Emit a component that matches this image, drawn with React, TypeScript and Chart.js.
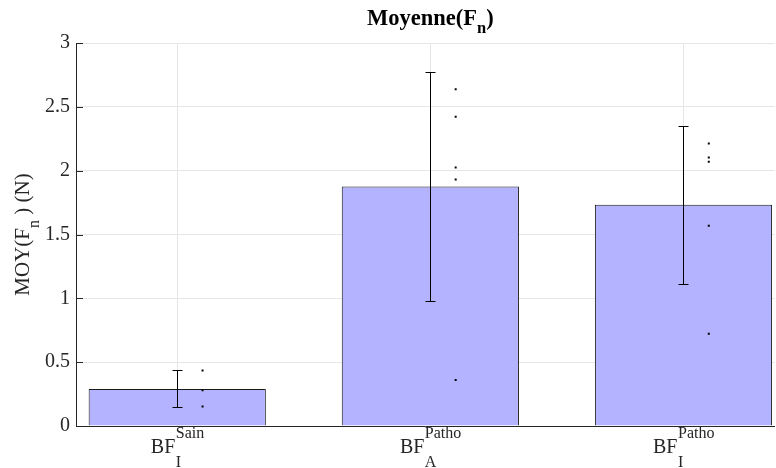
import React, { useEffect, useRef } from 'react';
import { Chart, registerables } from 'chart.js';

Chart.register(...registerables);

// ---- data ----
const CATEGORY_POS = [1, 2, 3];
const LABEL_MAIN = ['BF', 'BF', 'BF'];
const LABEL_SUB = ['I', 'A', 'I'];
const LABEL_SUP = ['Sain', 'Patho', 'Patho'];
const BAR_MEANS = [0.29, 1.876, 1.733];
const BAR_ERRORS = [0.145, 0.893, 0.62];
const POINTS_1 = [0.435, 0.28, 0.152];
const POINTS_2 = [2.637, 2.423, 2.025, 1.931, 0.361];
const POINTS_3 = [2.213, 2.104, 2.07, 1.568, 0.722];
const ALL_POINTS = [POINTS_1, POINTS_2, POINTS_3];
const DOT_OFFSET = 0.1;
const Y_MIN = 0;
const Y_MAX = 3;
const Y_STEP = 0.5;
const X_MIN = 0.6;
const X_MAX = 3.36;

const TITLE_PARTS = [
  { t: 'Moyenne(F', s: 22.5, dy: 0 },
  { t: 'n', s: 16.5, dy: 8 },
  { t: ')', s: 22.5, dy: 0 },
];
const YLABEL_PARTS = [
  { t: 'MOY(F', s: 21, dy: 0 },
  { t: 'n', s: 16, dy: 10 },
  { t: ' ) (N)', s: 21, dy: 0 },
];

const TEXT = '#262626';
const GRID = '#e6e6e6';
const SERIF = "'Liberation Serif', 'Times New Roman', serif";

type Part = { t: string; s: number; dy: number };

function drawParts(ctx: CanvasRenderingContext2D, parts: Part[], cx: number, y: number, bold: boolean) {
  const w = parts.map((p) => {
    ctx.font = `${bold ? 'bold ' : ''}${p.s}px ${SERIF}`;
    return ctx.measureText(p.t).width;
  });
  const total = w.reduce((a, b) => a + b, 0);
  let x = cx - total / 2;
  parts.forEach((p, i) => {
    ctx.font = `${bold ? 'bold ' : ''}${p.s}px ${SERIF}`;
    ctx.fillText(p.t, x, y + p.dy);
    x += w[i];
  });
}

const decorPlugin = {
  id: 'decor',
  beforeDatasetsDraw(chart: any) {
    const ctx = chart.ctx as CanvasRenderingContext2D;
    const ys = chart.scales.y;
    const area = chart.chartArea;
    ctx.save();
    ctx.strokeStyle = TEXT;
    ctx.lineWidth = 1;
    for (let v = Y_MIN; v <= Y_MAX + 1e-9; v += Y_STEP) {
      const py = Math.round(ys.getPixelForValue(v)) + 0.5;
      ctx.beginPath();
      ctx.moveTo(area.left, py);
      ctx.lineTo(area.left + 7, py);
      ctx.stroke();
    }
    ctx.restore();
  },
  afterDatasetsDraw(chart: any) {
    const ctx = chart.ctx as CanvasRenderingContext2D;
    const xs = chart.scales.x;
    const ys = chart.scales.y;
    ctx.save();
    ctx.strokeStyle = '#000';
    ctx.lineWidth = 1;
    CATEGORY_POS.forEach((c, i) => {
      const px = Math.round(xs.getPixelForValue(c)) + 0.5;
      const top = Math.round(ys.getPixelForValue(BAR_MEANS[i] + BAR_ERRORS[i])) + 0.5;
      const bot = Math.round(ys.getPixelForValue(BAR_MEANS[i] - BAR_ERRORS[i])) + 0.5;
      ctx.beginPath();
      ctx.moveTo(px, top);
      ctx.lineTo(px, bot);
      ctx.moveTo(px - 5, top);
      ctx.lineTo(px + 5, top);
      ctx.moveTo(px - 5, bot);
      ctx.lineTo(px + 5, bot);
      ctx.stroke();
    });
    ctx.restore();
  },
  afterDraw(chart: any) {
    const ctx = chart.ctx as CanvasRenderingContext2D;
    const xs = chart.scales.x;
    const area = chart.chartArea;
    ctx.save();
    ctx.textBaseline = 'alphabetic';
    ctx.textAlign = 'left';
    // title
    ctx.fillStyle = '#000';
    drawParts(ctx, TITLE_PARTS, xs.getPixelForValue(CATEGORY_POS[1]), 25, true);
    // y label
    ctx.fillStyle = TEXT;
    ctx.save();
    ctx.translate(29, (area.top + area.bottom) / 2);
    ctx.rotate(-Math.PI / 2);
    drawParts(ctx, YLABEL_PARTS, 0, 0, false);
    ctx.restore();
    // x tick labels
    CATEGORY_POS.forEach((c, i) => {
      const cx = xs.getPixelForValue(c);
      ctx.font = `20px ${SERIF}`;
      const wm = ctx.measureText(LABEL_MAIN[i]).width;
      ctx.font = `16px ${SERIF}`;
      const ws = Math.max(ctx.measureText(LABEL_SUP[i]).width, ctx.measureText(LABEL_SUB[i]).width);
      const x0 = cx - (wm + ws) / 2;
      const base = area.bottom + 27;
      ctx.font = `20px ${SERIF}`;
      ctx.fillText(LABEL_MAIN[i], x0, base);
      ctx.font = `16px ${SERIF}`;
      ctx.fillText(LABEL_SUP[i], x0 + wm + 0.5, base - 15);
      ctx.fillText(LABEL_SUB[i], x0 + wm + 0.5, base + 14);
    });
    ctx.restore();
  },
};

export default function App() {
  const ref = useRef<HTMLCanvasElement | null>(null);
  useEffect(() => {
    if (!ref.current) return;
    const dots: { x: number; y: number }[] = [];
    ALL_POINTS.forEach((pts, i) => pts.forEach((v) => dots.push({ x: CATEGORY_POS[i] + DOT_OFFSET, y: v })));
    const chart = new Chart(ref.current, {
      type: 'bar',
      data: {
        datasets: [
          {
            type: 'scatter',
            data: dots,
            pointStyle: 'rect',
            pointRadius: 1.4,
            pointHoverRadius: 1.4,
            backgroundColor: '#000',
            borderWidth: 0,
            order: 1,
          } as any,
          {
            type: 'bar',
            data: CATEGORY_POS.map((x, i) => ({ x, y: BAR_MEANS[i] })),
            backgroundColor: '#b3b3ff',
            borderColor: '#1a1a1a',
            borderWidth: 1,
            barPercentage: 0.7,
            categoryPercentage: 1,
            order: 2,
          } as any,
        ],
      },
      options: {
        responsive: false,
        animation: false,
        devicePixelRatio: 1,
        layout: { padding: { top: 43, left: 0, right: 0, bottom: 0 } },
        plugins: {
          legend: { display: false },
          tooltip: { enabled: false },
          title: { display: false },
        },
        scales: {
          x: {
            type: 'linear',
            min: X_MIN,
            max: X_MAX,
            offset: false,
            grid: { offset: false, color: GRID, drawTicks: false },
            border: { color: TEXT, width: 1 },
            ticks: { display: false },
            afterBuildTicks: (s: any) => {
              s.ticks = CATEGORY_POS.map((v) => ({ value: v }));
            },
            afterFit: (s: any) => {
              s.height = 42;
            },
          },
          y: {
            min: Y_MIN,
            max: Y_MAX,
            ticks: {
              stepSize: Y_STEP,
              color: TEXT,
              padding: 6,
              font: { family: SERIF, size: 20 },
              callback: (v: any) => String(Number(v)),
            },
            grid: { color: GRID, drawTicks: false },
            border: { color: TEXT, width: 1 },
            afterFit: (s: any) => {
              s.width = 76;
            },
          },
        },
      } as any,
      plugins: [decorPlugin],
    });
    return () => chart.destroy();
  }, []);
  return (
    <div style={{ position: 'fixed', left: 0, top: 0, width: 776, height: 468, background: '#fff', overflow: 'hidden' }}>
      <canvas ref={ref} width={776} height={468} style={{ display: 'block' }} />
    </div>
  );
}
